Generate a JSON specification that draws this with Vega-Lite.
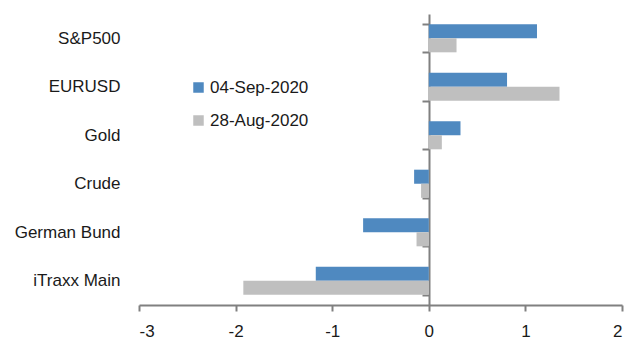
{
  "$schema": "https://vega.github.io/schema/vega-lite/v6.json",
  "width": 483,
  "height": 291,
  "autosize": "none",
  "padding": {"left": 139, "top": 14, "right": 6, "bottom": 32},
  "background": "white",
  "config": {
    "view": {"stroke": null},
    "font": "Liberation Sans",
    "axis": {"labelFont": "Liberation Sans", "labelFontSize": 17, "labelColor": "#1a1a1a", "domainColor": "#808080", "tickColor": "#808080", "domainWidth": 2, "tickWidth": 2, "grid": false, "title": null}
  },
  "data": {
    "values": [
      {"asset": "S&P500", "date": "04-Sep-2020", "value": 1.12},
      {"asset": "S&P500", "date": "28-Aug-2020", "value": 0.287},
      {"asset": "EURUSD", "date": "04-Sep-2020", "value": 0.81},
      {"asset": "EURUSD", "date": "28-Aug-2020", "value": 1.353},
      {"asset": "Gold", "date": "04-Sep-2020", "value": 0.328},
      {"asset": "Gold", "date": "28-Aug-2020", "value": 0.135},
      {"asset": "Crude", "date": "04-Sep-2020", "value": -0.152},
      {"asset": "Crude", "date": "28-Aug-2020", "value": -0.08},
      {"asset": "German Bund", "date": "04-Sep-2020", "value": -0.68},
      {"asset": "German Bund", "date": "28-Aug-2020", "value": -0.127},
      {"asset": "iTraxx Main", "date": "04-Sep-2020", "value": -1.17},
      {"asset": "iTraxx Main", "date": "28-Aug-2020", "value": -1.92}
    ]
  },
  "mark": {"type": "bar", "cornerRadius": 0},
  "encoding": {
    "y": {
      "field": "asset",
      "type": "nominal",
      "sort": ["S&P500", "EURUSD", "Gold", "Crude", "German Bund", "iTraxx Main"],
      "scale": {"paddingInner": 0.42, "paddingOuter": 0.21},
      "axis": {
        "offset": -290,
        "tickBand": "extent",
        "tickSize": 7,
        "labelPadding": 302,
        "labelAlign": "right"
      }
    },
    "yOffset": {
      "field": "date",
      "type": "nominal",
      "sort": ["04-Sep-2020", "28-Aug-2020"],
      "scale": {"paddingInner": 0, "paddingOuter": 0}
    },
    "x": {
      "field": "value",
      "type": "quantitative",
      "scale": {"domain": [-3, 2], "nice": false, "zero": false},
      "axis": {"values": [-3, -2, -1, 0, 1, 2], "tickSize": 6, "labelPadding": 12, "labelExpr": "'' + datum.value"}
    },
    "color": {
      "field": "date",
      "type": "nominal",
      "sort": ["04-Sep-2020", "28-Aug-2020"],
      "scale": {"range": ["#4f89c0", "#bfbfbf"]},
      "legend": {
        "title": null,
        "orient": "none",
        "legendX": 51,
        "legendY": 65,
        "symbolType": "square",
        "symbolSize": 110,
        "symbolStrokeWidth": 0,
        "labelFontSize": 17,
        "labelFont": "Liberation Sans",
        "labelColor": "#1a1a1a",
        "rowPadding": 15,
        "labelOffset": 3
      }
    }
  }
}
